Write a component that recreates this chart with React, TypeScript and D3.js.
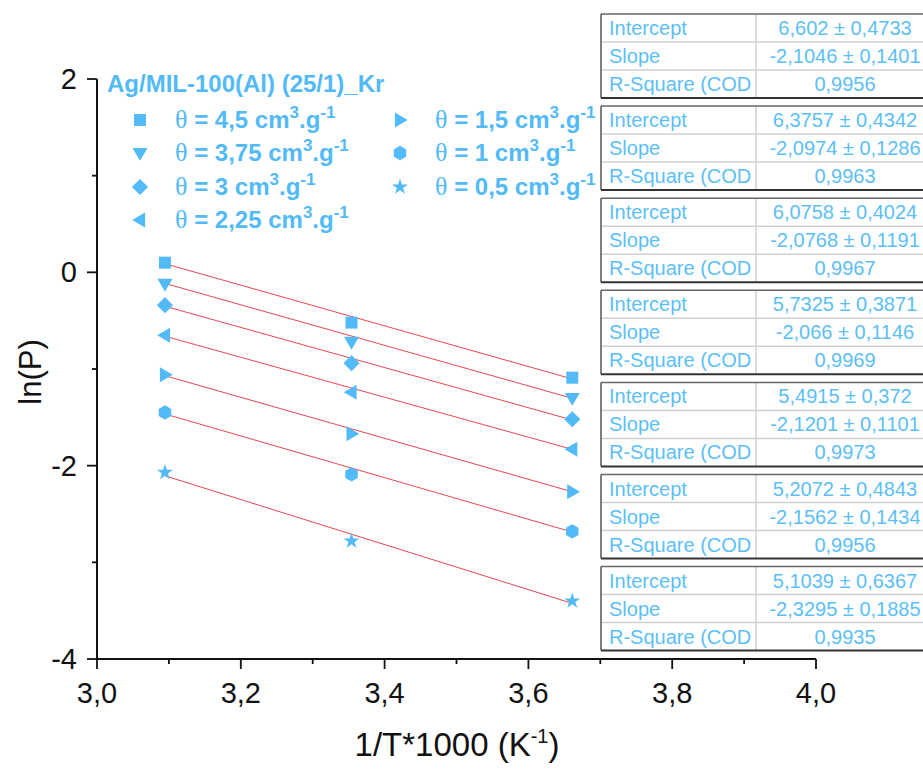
import React from "react";
import * as d3 from "d3";

const W = 923;
const H = 769;

const xValues = [3.0945, 3.354, 3.661];
const seriesNames = ["4,5", "3,75", "3", "2,25", "1,5", "1", "0,5"];
const seriesShapes = ["square", "down", "diamond", "left", "right", "hexagon", "star"];
const sq45 = [0.1, -0.52, -1.09];
const sq375 = [-0.12, -0.72, -1.3];
const sq3 = [-0.34, -0.94, -1.52];
const sq225 = [-0.65, -1.24, -1.83];
const sq15 = [-1.06, -1.67, -2.27];
const sq1 = [-1.45, -2.09, -2.68];
const sq05 = [-2.07, -2.78, -3.4];
const seriesValues = [sq45, sq375, sq3, sq225, sq15, sq1, sq05];

const intercepts = [6.602, 6.3757, 6.0758, 5.7325, 5.4915, 5.2072, 5.1039];
const slopes = [-2.1046, -2.0974, -2.0768, -2.066, -2.1201, -2.1562, -2.3295];
const interceptText = ["6,602 ± 0,4733", "6,3757 ± 0,4342", "6,0758 ± 0,4024", "5,7325 ± 0,3871", "5,4915 ± 0,372", "5,2072 ± 0,4843", "5,1039 ± 0,6367"];
const slopeText = ["-2,1046 ± 0,1401", "-2,0974 ± 0,1286", "-2,0768 ± 0,1191", "-2,066 ± 0,1146", "-2,1201 ± 0,1101", "-2,1562 ± 0,1434", "-2,3295 ± 0,1885"];
const r2Text = ["0,9956", "0,9963", "0,9967", "0,9969", "0,9973", "0,9956", "0,9935"];

const xTicks = [3.0, 3.2, 3.4, 3.6, 3.8, 4.0];
const xMinor = [3.1, 3.3, 3.5, 3.7, 3.9];
const yTicks = [2, 0, -2, -4];
const yMinor = [1, -1, -3];

const BLUE = "#52BAF6";
const TBLUE = "#5CBFF7";
const RED = "#E5484D";

function shapePath(kind: string, r: number): string {
  const pts = (arr: number[][]) => "M" + arr.map((p) => p.join(",")).join("L") + "Z";
  switch (kind) {
    case "square":
      return pts([[-r, -r], [r, -r], [r, r], [-r, r]]);
    case "diamond":
      return pts([[0, -r * 1.35], [r * 1.35, 0], [0, r * 1.35], [-r * 1.35, 0]]);
    case "down":
      return pts([[-r * 1.25, -r * 0.85], [r * 1.25, -r * 0.85], [0, r * 1.3]]);
    case "left":
      return pts([[r * 0.85, -r * 1.25], [r * 0.85, r * 1.25], [-r * 1.3, 0]]);
    case "right":
      return pts([[-r * 0.85, -r * 1.25], [-r * 0.85, r * 1.25], [r * 1.3, 0]]);
    case "hexagon": {
      const a: number[][] = [];
      for (let i = 0; i < 6; i++) {
        const ang = (Math.PI / 3) * i - Math.PI / 2;
        a.push([r * 1.2 * Math.cos(ang), r * 1.2 * Math.sin(ang)]);
      }
      return pts(a);
    }
    case "star":
      return d3.symbol(d3.symbolStar, r * r * 2.2)() as string;
  }
  return "";
}

function Marker({ kind, x, y, r = 6 }: { kind: string; x: number; y: number; r?: number }) {
  return <path d={shapePath(kind, r)} transform={`translate(${x},${y})`} fill={BLUE} />;
}

function LegendText({ x, y, val }: { x: number; y: number; val: string }) {
  return (
    <text x={x} y={y} fill={BLUE} fontFamily="Liberation Sans, Arial, sans-serif" fontWeight="bold" fontSize={24}>
      <tspan fontFamily="Liberation Serif, serif" fontWeight="normal" fontSize={26}>θ</tspan>
      <tspan>{` = ${val} cm`}</tspan>
      <tspan fontSize={17} dy={-10}>3</tspan>
      <tspan dy={10}>.g</tspan>
      <tspan fontSize={17} dy={-10}>-1</tspan>
    </text>
  );
}

export default function App() {
  const x = d3.scaleLinear().domain([3, 4]).range([97, 816]);
  const y = d3.scaleLinear().domain([-4, 2]).range([659, 79]);
  const axisFont = "Liberation Sans, Arial, sans-serif";

  const legendPos = [
    [140, 120], [140, 153], [140, 187], [140, 220],
    [400, 120], [400, 153], [400, 187],
  ];

  return (
    <svg width={W} height={H} style={{ position: "absolute", left: 0, top: 0, background: "#fff" }}>
      <rect width={W} height={H} fill="#fff" />
      {/* axes */}
      <line x1={x(3)} x2={x(4)} y1={y(-4)} y2={y(-4)} stroke="#111" strokeWidth={2} />
      <line x1={x(3)} x2={x(3)} y1={y(2)} y2={y(-4)} stroke="#111" strokeWidth={2} />
      {xTicks.map((t) => (
        <g key={"xt" + t}>
          <line x1={x(t)} x2={x(t)} y1={y(-4)} y2={y(-4) + 10} stroke="#111" strokeWidth={1.8} />
          <text x={x(t)} y={703} textAnchor="middle" fontFamily={axisFont} fontSize={29} fill="#111">
            {t.toFixed(1).replace(".", ",")}
          </text>
        </g>
      ))}
      {xMinor.map((t) => (
        <line key={"xm" + t} x1={x(t)} x2={x(t)} y1={y(-4)} y2={y(-4) + 5} stroke="#111" strokeWidth={1.8} />
      ))}
      {yTicks.map((t) => (
        <g key={"yt" + t}>
          <line x1={x(3) - 10} x2={x(3)} y1={y(t)} y2={y(t)} stroke="#111" strokeWidth={1.8} />
          <text x={77} y={y(t) + 10} textAnchor="end" fontFamily={axisFont} fontSize={29} fill="#111">
            {t}
          </text>
        </g>
      ))}
      {yMinor.map((t) => (
        <line key={"ym" + t} x1={x(3) - 5} x2={x(3)} y1={y(t)} y2={y(t)} stroke="#111" strokeWidth={1.8} />
      ))}
      <text transform={`translate(41,372) rotate(-90)`} textAnchor="middle" fontFamily={axisFont} fontSize={31} fill="#111">
        ln(P)
      </text>
      <text x={457} y={756} textAnchor="middle" fontFamily={axisFont} fontSize={33} fill="#111">
        1/T*1000 (K<tspan fontSize={20} dy={-13}>-1</tspan><tspan dy={13}>)</tspan>
      </text>

      {/* fit lines */}
      {intercepts.map((b, i) => {
        const x0 = xValues[0];
        const x1 = xValues[xValues.length - 1];
        return (
          <line key={"fit" + i} x1={x(x0)} y1={y(b + slopes[i] * x0)} x2={x(x1)} y2={y(b + slopes[i] * x1)} stroke={RED} strokeWidth={1} />
        );
      })}

      {/* points */}
      {seriesValues.map((vals, i) =>
        vals.map((v, j) => <Marker key={`p${i}-${j}`} kind={seriesShapes[i]} x={x(xValues[j])} y={y(v)} />)
      )}

      {/* legend */}
      <text x={107} y={92} fill={BLUE} fontFamily={axisFont} fontWeight="bold" fontSize={24}>
        Ag/MIL-100(Al) (25/1)_Kr
      </text>
      {seriesNames.map((n, i) => (
        <g key={"lg" + i}>
          <Marker kind={seriesShapes[i]} x={legendPos[i][0]} y={legendPos[i][1]} r={6} />
          <LegendText x={legendPos[i][0] + 35} y={legendPos[i][1] + 8} val={n} />
        </g>
      ))}

      {/* tables */}
      {intercepts.map((_, i) => {
        const top = 14 + i * 92.1;
        const left = 601;
        const mid = 756;
        const right = 934;
        const rh = 28;
        const rows = [
          ["Intercept", interceptText[i]],
          ["Slope", slopeText[i]],
          ["R-Square (COD", r2Text[i]],
        ];
        return (
          <g key={"tb" + i}>
            <rect x={left} y={top} width={right - left} height={rh * 3} fill="#fff" />
            {[1, 2].map((k) => (
              <line key={k} x1={left} x2={right} y1={top + k * rh} y2={top + k * rh} stroke="#d0d0d0" strokeWidth={1.5} />
            ))}
            <line x1={mid} x2={mid} y1={top} y2={top + rh * 3} stroke="#d0d0d0" strokeWidth={1.5} />
            <line x1={left} x2={right} y1={top} y2={top} stroke="#666" strokeWidth={1.5} />
            <line x1={left} x2={left} y1={top} y2={top + rh * 3} stroke="#555" strokeWidth={1.5} />
            <line x1={left} x2={right} y1={top + rh * 3} y2={top + rh * 3} stroke="#333" strokeWidth={2} />
            {rows.map((r, k) => (
              <g key={"r" + k}>
                <text x={609} y={top + k * rh + 21} fill={TBLUE} fontFamily={axisFont} fontSize={20}>
                  {r[0]}
                </text>
                <text x={845} y={top + k * rh + 21} textAnchor="middle" fill={TBLUE} fontFamily={axisFont} fontSize={20}>
                  {r[1]}
                </text>
              </g>
            ))}
          </g>
        );
      })}
    </svg>
  );
}
